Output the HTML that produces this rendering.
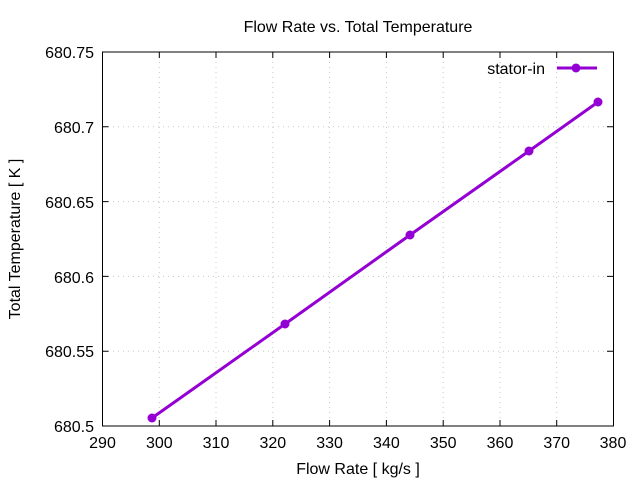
<!DOCTYPE html>
<html><head><meta charset="utf-8"><style>body{margin:0;background:#fff}svg{display:block}</style></head>
<body>
<svg width="640" height="480" xmlns="http://www.w3.org/2000/svg" font-family="Liberation Sans, sans-serif" font-size="16">
<rect width="640" height="480" fill="#fff"/>
<g stroke="#c8c8c8" stroke-width="1" stroke-dasharray="1,4">
<line x1="159.3" y1="52" x2="159.3" y2="426"/><line x1="216" y1="52" x2="216" y2="426"/><line x1="272.8" y1="52" x2="272.8" y2="426"/><line x1="329.6" y1="52" x2="329.6" y2="426"/><line x1="386.4" y1="52" x2="386.4" y2="426"/><line x1="443.2" y1="52" x2="443.2" y2="426"/><line x1="500" y1="52" x2="500" y2="426"/><line x1="556.7" y1="52" x2="556.7" y2="426"/>
<line x1="103" y1="126.8" x2="613" y2="126.8"/><line x1="103" y1="201.6" x2="613" y2="201.6"/><line x1="103" y1="276.4" x2="613" y2="276.4"/><line x1="103" y1="351.2" x2="613" y2="351.2"/>
</g>
<rect x="102.5" y="52" width="511" height="374" fill="none" stroke="#000" stroke-width="1"/>
<g stroke="#000" stroke-width="1">
<path d="M159.3 426v-6M216 426v-6M272.8 426v-6M329.6 426v-6M386.4 426v-6M443.2 426v-6M500 426v-6M556.7 426v-6M159.3 52v6M216 52v6M272.8 52v6M329.6 52v6M386.4 52v6M443.2 52v6M500 52v6M556.7 52v6"/>
<path d="M102.5 126.8h6M102.5 201.6h6M102.5 276.4h6M102.5 351.2h6M613 126.8h-6M613 201.6h-6M613 276.4h-6M613 351.2h-6"/>
</g>
<g font-size="16" fill="#000" text-anchor="end">
<text x="94" y="58">680.75</text><text x="94" y="133">680.7</text><text x="94" y="208">680.65</text><text x="94" y="283">680.6</text><text x="94" y="357">680.55</text><text x="94" y="432">680.5</text>
</g>
<g font-size="16" fill="#000" text-anchor="middle">
<text x="102.5" y="448">290</text><text x="159.3" y="448">300</text><text x="216" y="448">310</text><text x="272.8" y="448">320</text><text x="329.6" y="448">330</text><text x="386.4" y="448">340</text><text x="443.2" y="448">350</text><text x="500" y="448">360</text><text x="556.7" y="448">370</text><text x="613" y="448">380</text>
</g>
<text x="358" y="32" text-anchor="middle" font-size="16">Flow Rate vs. Total Temperature</text>
<text x="358" y="474" text-anchor="middle" font-size="16">Flow Rate [ kg/s ]</text>
<text transform="translate(20,239) rotate(-90)" text-anchor="middle" font-size="16">Total Temperature [ K ]</text>
<text x="545" y="74" text-anchor="end" font-size="16">stator-in</text>
<line x1="557" y1="68" x2="597" y2="68" stroke="#9400d3" stroke-width="3"/>
<circle cx="576" cy="68" r="4.5" fill="#9400d3"/>
<polyline points="152,418 285,324 410,235 529,151 598,102" fill="none" stroke="#9400d3" stroke-width="3"/>
<g fill="#9400d3"><circle cx="152" cy="418" r="4.5"/><circle cx="285" cy="324" r="4.5"/><circle cx="410" cy="235" r="4.5"/><circle cx="529" cy="151" r="4.5"/><circle cx="598" cy="102" r="4.5"/></g>
</svg>
</body></html>
